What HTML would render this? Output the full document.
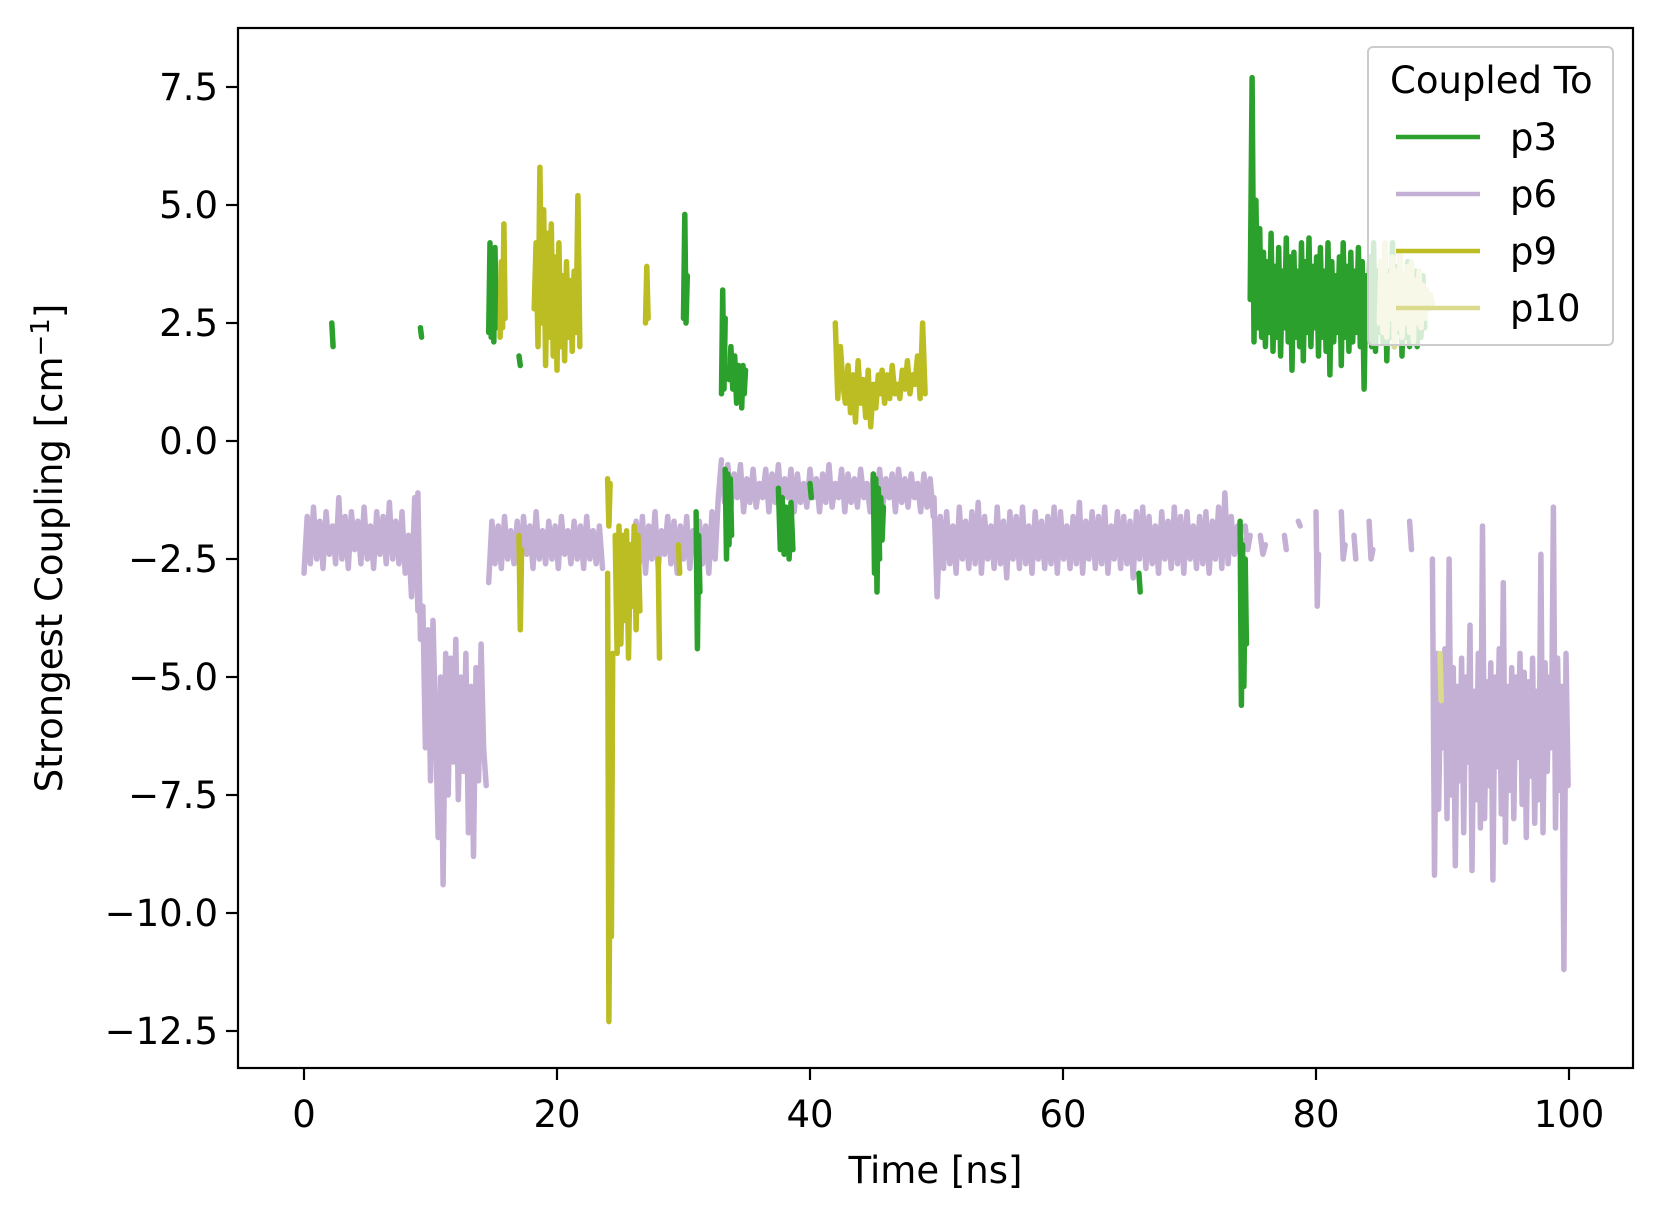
<!DOCTYPE html>
<html><head><meta charset="utf-8">
<style>
html,body{margin:0;padding:0;background:#fff;}
svg{display:block;font-family:"DejaVu Sans","Liberation Sans",sans-serif;}
</style></head>
<body>
<svg id="chart" width="1661" height="1215" viewBox="0 0 1661 1215" xmlns="http://www.w3.org/2000/svg">
<rect x="0" y="0" width="1661" height="1215" fill="#fff"/>
<g id="plot"></g>
<g id="axes"></g>
<g id="legend">
  <rect x="1368" y="47" width="245" height="298" rx="5" fill="#fff" fill-opacity="0.8" stroke="#cccccc" stroke-width="2"/>
  <text x="1390" y="93" font-size="37">Coupled To</text>
  <line x1="1396" y1="137" x2="1480" y2="137" stroke="#2ca02c" stroke-width="4.5"/>
  <text x="1510" y="150" font-size="37">p3</text>
  <line x1="1396" y1="194" x2="1480" y2="194" stroke="#c5b0d5" stroke-width="4.5"/>
  <text x="1510" y="207" font-size="37">p6</text>
  <line x1="1396" y1="251" x2="1480" y2="251" stroke="#bcbd22" stroke-width="4.5"/>
  <text x="1510" y="264" font-size="37">p9</text>
  <line x1="1396" y1="308" x2="1480" y2="308" stroke="#dbdb8d" stroke-width="4.5"/>
  <text x="1510" y="321" font-size="37">p10</text>
</g>
</svg>
<script>
const xTicks=[0,20,40,60,80,100];
const yTicks=[7.5,5.0,2.5,0.0,-2.5,-5.0,-7.5,-10.0,-12.5];
const yTickLabels=["7.5","5.0","2.5","0.0","\u22122.5","\u22125.0","\u22127.5","\u221210.0","\u221212.5"];

// p6 segments: start time, step (ns), values
const p6Start=[0,9.0,14.6,26.0,33.0,49.8,74.4,75.6,77.5,78.6,80.0,82.0,83.0,84.2,87.4,89.2];
const p6Step=[0.25,0.2,0.25,0.25,0.25,0.25,0.2,0.2,0.15,0.15,0.1,0.15,0.15,0.15,0.15,0.165];
const p6Vals=[
[-2.8,-1.6,-2.6,-1.4,-2.5,-1.7,-2.7,-1.5,-2.4,-1.8,-2.6,-1.2,-2.5,-1.6,-2.7,-1.5,-2.3,-1.7,-2.6,-1.4,-2.5,-1.8,-2.7,-1.5,-2.4,-1.6,-2.6,-1.3,-2.5,-1.7,-2.6,-1.5,-2.8,-2.0,-3.3,-1.2,-3.6],
[-1.1,-4.2,-3.5,-6.5,-4.0,-7.2,-3.8,-6.0,-8.4,-5.0,-9.4,-4.5,-7.5,-4.6,-6.8,-4.2,-7.6,-5.0,-7.0,-4.5,-8.3,-5.2,-8.8,-4.8,-7.2,-4.3,-6.5,-7.3],
[-3.0,-1.7,-2.6,-1.8,-2.7,-1.6,-2.5,-1.9,-2.6,-1.7,-2.8,-1.6,-2.4,-1.8,-2.7,-1.5,-2.5,-1.9,-2.6,-1.7,-2.5,-1.8,-2.7,-1.6,-2.4,-1.9,-2.6,-1.7,-2.5,-1.8,-2.7,-1.6,-2.5,-1.9,-2.6,-1.8,-2.7],
[-2.3,-1.7,-2.6,-1.6,-2.8,-1.8,-2.5,-1.5,-2.7,-1.9,-2.4,-1.6,-2.6,-1.7,-2.8,-1.8,-2.5,-1.6,-2.7,-1.9,-2.4,-1.7,-2.6,-1.8,-2.8,-1.5,-2.5,-1.2,-0.4],
[-0.6,-1.3,-0.5,-1.4,-0.7,-1.2,-0.5,-1.5,-0.8,-1.3,-0.6,-1.4,-0.9,-1.2,-0.6,-1.5,-0.7,-1.3,-0.5,-1.4,-0.8,-1.2,-0.6,-1.5,-0.7,-1.3,-0.9,-1.4,-0.6,-1.2,-0.8,-1.5,-0.7,-1.3,-0.5,-1.4,-0.9,-1.2,-0.6,-1.5,-0.7,-1.3,-0.8,-1.4,-0.6,-1.2,-0.9,-1.5,-0.7,-1.3,-0.6,-1.4,-0.8,-1.2,-0.7,-1.5,-0.6,-1.3,-0.8,-1.4,-0.7,-1.2,-0.9,-1.5,-0.7,-1.4,-0.8,-1.6],
[-1.2,-3.3,-1.6,-2.7,-1.5,-2.6,-1.8,-2.8,-1.4,-2.5,-1.7,-2.7,-1.5,-2.6,-1.3,-2.8,-1.6,-2.5,-1.8,-2.7,-1.4,-2.6,-1.7,-2.9,-1.5,-2.5,-1.6,-2.7,-1.4,-2.6,-1.8,-2.8,-1.5,-2.5,-1.7,-2.7,-1.6,-2.6,-1.4,-2.8,-1.5,-2.5,-1.8,-2.7,-1.6,-2.6,-1.3,-2.8,-1.7,-2.5,-1.5,-2.7,-1.6,-2.6,-1.4,-2.8,-1.8,-2.5,-1.5,-2.7,-1.6,-2.6,-1.7,-2.9,-1.5,-2.5,-1.4,-2.7,-1.6,-2.6,-1.8,-2.8,-1.5,-2.5,-1.7,-2.7,-1.4,-2.6,-1.6,-2.8,-1.5,-2.5,-1.8,-2.7,-1.6,-2.6,-1.5,-2.8,-1.7,-2.5,-1.4,-2.7,-1.1,-2.6,-1.6,-2.4,-1.8,-2.3,-2.1],
[-1.8,-2.3,-2.0],
[-2.0,-2.4,-2.2],
[-2.0,-2.3],
[-1.7,-1.8],
[-1.5,-3.5,-2.4],
[-1.5,-2.5,-2.2],
[-2.0,-2.5],
[-1.7,-2.5,-2.3],
[-1.7,-2.3],
[-2.5,-9.2,-4.5,-7.8,-5.0,-6.5,-4.4,-8.0,-2.5,-7.5,-4.8,-9.0,-5.2,-7.2,-4.6,-8.3,-5.0,-6.8,-3.9,-9.1,-5.3,-7.6,-4.5,-8.2,-1.8,-8.0,-5.1,-7.3,-4.7,-9.3,-5.0,-6.9,-4.4,-7.9,-3.0,-8.5,-5.2,-7.4,-4.8,-8.0,-5.0,-6.7,-4.5,-7.7,-4.9,-8.4,-5.1,-7.1,-4.6,-8.1,-5.3,-7.6,-2.4,-8.3,-4.7,-7.0,-5.0,-6.5,-1.4,-8.2,-4.6,-7.4,-5.2,-11.2,-4.5,-7.3]
];

// p3 segments
const p3Start=[2.2,9.2,14.6,17.0,30.0,33.0,33.6,34.6,31.0,33.3,37.5,38.2,40.0,45.0,45.6,66.0,74.0,74.8];
const p3Step=[0.1,0.1,0.1,0.1,0.1,0.1,0.15,0.1,0.1,0.1,0.15,0.15,0.1,0.1,0.1,0.1,0.1,0.15];
const p3Vals=[
[2.5,2.0],
[2.4,2.2],
[2.3,4.2,2.2,3.9,2.1,4.1,2.4],
[1.8,1.6],
[2.6,4.8,2.5,3.5],
[1.0,3.2,1.1,2.6],
[1.3,2.0,1.1,1.8,0.8,1.6,1.0],
[0.7,1.6,1.0,1.5],
[-1.5,-4.4,-2.0,-3.2],
[-0.6,-2.5,-0.7,-2.2,-0.8,-2.0],
[-1.0,-2.3,-1.2,-2.4,-1.4,-2.0],
[-1.6,-2.5,-1.3,-2.3],
[-0.9,-1.2],
[-0.7,-2.8,-0.8,-3.2,-1.0,-2.5],
[-1.2,-2.1,-1.4],
[-2.8,-3.2],
[-1.7,-5.6,-2.2,-5.2,-2.5,-4.3],
[3.0,7.7,2.1,5.1,2.4,4.5,2.2,4.0,2.0,3.8,2.3,4.4,1.9,3.7,2.2,4.1,1.8,3.6,2.4,4.3,2.1,3.9,1.5,4.0,2.2,3.6,2.0,4.2,1.7,3.8,2.3,4.3,2.0,3.7,2.4,3.9,1.8,4.1,2.2,3.6,1.9,4.2,1.4,3.8,2.1,3.5,2.3,3.9,1.6,4.2,2.2,3.7,1.9,4.0,2.1,3.6,2.3,4.1,2.0,3.8,1.1,3.5,2.2,3.9,2.0,4.2,1.9,3.6,2.3,3.8,2.1,4.0,1.7,3.6,2.2,4.2,2.0,3.7,2.3,3.9,1.8,3.5,2.2,3.8,2.0,3.4,2.1,3.6,2.0,3.3,2.2,3.5,2.4]
];

// p9 segments
const p9Start=[15.5,17.0,18.2,27.0,24.0,24.6,28.0,29.6,42.0,45.5,24.0];
const p9Step=[0.1,0.1,0.15,0.1,0.1,0.15,0.1,0.1,0.2,0.2,0.1];
const p9Vals=[
[2.2,3.8,2.4,4.6,2.6],
[-2.0,-4.0,-2.3],
[2.8,4.2,2.0,5.8,2.5,4.9,1.6,4.4,2.2,4.6,1.8,3.9,1.5,4.2,2.0,3.5,1.7,3.8,2.2,3.4,1.9,3.6,2.3,5.2,2.0],
[2.5,3.7,2.6],
[-2.8,-12.3,-8.5,-10.5,-4.5],
[-2.0,-4.5,-1.8,-4.3,-2.0,-3.8,-1.9,-4.6,-2.2,-3.5,-1.8,-4.0,-2.0,-3.6],
[-2.5,-4.6],
[-2.2,-2.8],
[2.5,0.9,2.0,1.2,0.8,1.6,0.6,1.4,0.4,1.7,0.8,1.3,0.5,1.5,0.3,1.2,0.7,1.4],
[1.0,1.5,0.8,1.4,0.9,1.6,1.0,1.2,0.9,1.5,1.1,1.7,1.0,1.4,1.2,1.8,0.9,2.5,1.0],
[-0.8,-1.8,-0.9]
];

// p10 segments
const p10Start=[85.0,89.8];
const p10Step=[0.15,0.1];
const p10Vals=[
[2.5,3.8,2.3,4.2,2.2,3.5,2.6,3.9,2.0,3.6,2.4,4.0,2.2,3.5,2.5,3.7,2.3,3.8,2.1,3.4,2.5,3.6,2.4,3.3,2.6,3.2,2.8,3.1,2.9],
[-4.5,-5.5]
];

const X0=238,X1=1633,Y0=28,Y1=1068;
function xs(t){return 304+t*(1569-304)/100;}
function ys(v){return 441-v*118/2.5;}

const NS="http://www.w3.org/2000/svg";
const plot=document.getElementById('plot');
const axes=document.getElementById('axes');

function drawSeries(name,color,starts,steps,vals){
  for(let i=0;i<starts.length;i++){
    let pts=vals[i].map((v,j)=>xs(starts[i]+j*steps[i]).toFixed(1)+","+ys(v).toFixed(1)).join(" ");
    const pl=document.createElementNS(NS,'polyline');
    pl.setAttribute('points',pts);
    pl.setAttribute('fill','none');
    pl.setAttribute('stroke',color);
    pl.setAttribute('stroke-width','5.5');
    pl.setAttribute('stroke-linecap','round');
    pl.setAttribute('stroke-linejoin','round');
    
    
    plot.appendChild(pl);
  }
}
drawSeries('p6','#c5b0d5',p6Start,p6Step,p6Vals);
drawSeries('p3','#2ca02c',p3Start,p3Step,p3Vals);
drawSeries('p9','#bcbd22',p9Start,p9Step,p9Vals);
drawSeries('p10','#dbdb8d',p10Start,p10Step,p10Vals);

const fr=document.createElementNS(NS,'rect');
fr.setAttribute('x',X0);fr.setAttribute('y',Y0);fr.setAttribute('width',X1-X0);fr.setAttribute('height',Y1-Y0);
fr.setAttribute('fill','none');fr.setAttribute('stroke','#000');fr.setAttribute('stroke-width','2.2');


axes.appendChild(fr);

xTicks.forEach(t=>{
  const x=xs(t);
  const l=document.createElementNS(NS,'line');
  l.setAttribute('x1',x);l.setAttribute('x2',x);l.setAttribute('y1',Y1);l.setAttribute('y2',Y1+12);
  l.setAttribute('stroke','#000');l.setAttribute('stroke-width','2.2');
  
  
  axes.appendChild(l);
  const tx=document.createElementNS(NS,'text');
  tx.setAttribute('x',x);tx.setAttribute('y',1127);tx.setAttribute('font-size','37');tx.setAttribute('text-anchor','middle');
  tx.textContent=String(t);
  
  
  axes.appendChild(tx);
});
yTicks.forEach((v,i)=>{
  const y=ys(v);
  const l=document.createElementNS(NS,'line');
  l.setAttribute('x1',X0-12);l.setAttribute('x2',X0);l.setAttribute('y1',y);l.setAttribute('y2',y);
  l.setAttribute('stroke','#000');l.setAttribute('stroke-width','2.2');
  
  
  axes.appendChild(l);
  const tx=document.createElementNS(NS,'text');
  tx.setAttribute('x',X0-20);tx.setAttribute('y',y+13);tx.setAttribute('font-size','37');tx.setAttribute('text-anchor','end');
  tx.textContent=yTickLabels[i];
  
  
  axes.appendChild(tx);
});
const xl=document.createElementNS(NS,'text');
xl.setAttribute('x',(X0+X1)/2);xl.setAttribute('y',1183);xl.setAttribute('font-size','37');xl.setAttribute('text-anchor','middle');
xl.textContent='Time [ns]';


axes.appendChild(xl);
const yl=document.createElementNS(NS,'text');
yl.setAttribute('transform','translate(62,548) rotate(-90)');yl.setAttribute('font-size','37');yl.setAttribute('text-anchor','middle');
yl.innerHTML='Strongest Coupling [cm<tspan dy="-13" font-size="26">\u22121</tspan><tspan dy="13">]</tspan>';


axes.appendChild(yl);
document.getElementById('chart').appendChild(document.getElementById('legend'));
</script>
</body></html>
